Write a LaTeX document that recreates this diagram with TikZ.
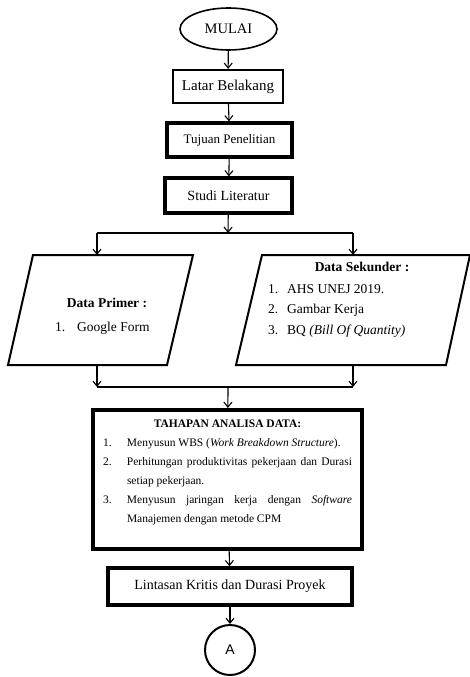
\documentclass[tikz,border=0pt]{standalone}
\usepackage{fontspec}
\setmainfont{Liberation Serif}
\newfontfamily\hurufA{Liberation Sans}
\usetikzlibrary{shapes.geometric,arrows.meta}

\tikzstyle{kotak}=[rectangle, draw=black, inner sep=0pt, font=\fontsize{14}{16}\selectfont]
\tikzstyle{tebal}=[line width=3.2pt]
\tikzstyle{jajar}=[draw=black, line width=2pt, line join=miter]
\tikzstyle{teks}=[inner sep=0pt, font=\fontsize{13.5}{15}\selectfont]
\tikzstyle{panah}=[-{Straight Barb[length=5pt,width=8pt,line width=1.1pt]}, line width=1.1pt]

\begin{document}
\begin{tikzpicture}[x=1pt, y=-1pt]
	\useasboundingbox (0,0) rectangle (470,677);

	% Awal
	\node(mulai) at (228.5,29) [ellipse, draw, line width=1.6pt, minimum width=97pt, minimum height=42pt, inner sep=0pt, font=\fontsize{14.5}{16}\selectfont] {MULAI};
	\node(latar) at (228,86.5) [kotak, line width=2.2pt, minimum width=110pt, minimum height=33pt, font=\fontsize{15}{17}\selectfont] {Latar Belakang};
	\node(tujuan) at (229.5,140) [kotak, tebal, minimum width=125pt, minimum height=34pt, font=\fontsize{13}{15}\selectfont] {Tujuan Penelitian};
	\node(studi) at (228.5,195.5) [kotak, tebal, minimum width=127pt, minimum height=35pt] {Studi Literatur};

	\draw[panah] (mulai) -- (latar);
	\draw[panah] (latar) -- (tujuan);
	\draw[panah] (tujuan) -- (studi);

	% Percabangan data
	\coordinate(pisah) at (228,233);
	\coordinate(pisahKiri) at (97,233);
	\coordinate(pisahKanan) at (353,233);
	\coordinate(primerAtas) at (97,255);
	\coordinate(sekunderAtas) at (353,255);

	\draw[panah] (studi) -- (pisah);
	\draw[line width=1.1pt] (pisahKiri) -- (pisahKanan);
	\draw[panah] (pisahKiri) -- (primerAtas);
	\draw[panah] (pisahKanan) -- (sekunderAtas);

	% Data primer
	\draw[jajar] (33,255) -- (193,255) -- (167,365) -- (8,365) -- cycle;
	\node(primer) at (107,303) [teks, font=\fontsize{13.5}{15}\selectfont\bfseries] {Data Primer :};
	\node(primerIsi) at (55,328) [teks, anchor=west] {\makebox[22pt][l]{1.}Google Form};

	% Data sekunder
	\draw[jajar] (262,255) -- (470,255) -- (446,365) -- (236,365) -- cycle;
	\node(sekunder) at (362,267) [teks, font=\fontsize{13.5}{15}\selectfont\bfseries] {Data Sekunder :};
	\node(sekunderIsi) at (268,310.5) [teks, anchor=west, align=left] {\makebox[19pt][l]{1.}AHS UNEJ 2019.\\[5.5pt]
		\makebox[19pt][l]{2.}Gambar Kerja\\[5.5pt]
		\makebox[19pt][l]{3.}BQ \textit{(Bill Of Quantity)}};

	% Penggabungan
	\coordinate(primerBawah) at (97,365);
	\coordinate(sekunderBawah) at (353,365);
	\coordinate(gabungKiri) at (97,387);
	\coordinate(gabungKanan) at (353,387);
	\coordinate(gabung) at (228,387);

	\draw[panah] (primerBawah) -- (gabungKiri);
	\draw[panah] (sekunderBawah) -- (gabungKanan);
	\draw[line width=1.1pt] (gabungKiri) -- (gabungKanan);

	% Analisa data
	\node(tahapan) at (227.5,408) [anchor=north, rectangle, draw, line width=4pt, text width=249pt, inner xsep=10pt, inner ysep=10pt, align=justify, font=\fontsize{11.5}{19}\selectfont] {%
		{\centering\bfseries TAHAPAN ANALISA DATA:\par}
		\hangindent=24pt\hangafter=1\noindent\makebox[24pt][l]{1.}Menyusun WBS (\textit{Work Breakdown Structure}).\par
		\hangindent=24pt\hangafter=1\noindent\makebox[24pt][l]{2.}Perhitungan produktivitas pekerjaan dan Durasi\linebreak setiap pekerjaan.\par
		\hangindent=24pt\hangafter=1\noindent\makebox[24pt][l]{3.}Menyusun jaringan kerja dengan \textit{Software}\linebreak Manajemen dengan metode CPM\rule[-16pt]{0pt}{1pt}\par};
	\draw[panah] (gabung) -- (tahapan);

	% Hasil
	\node(lintasan) at (230,586.5) [kotak, line width=3.5pt, minimum width=244pt, minimum height=37pt] {Lintasan Kritis dan Durasi Proyek};
	\node(a) at (230,650) [circle, draw, line width=2pt, minimum size=50pt, inner sep=0pt, font=\hurufA\fontsize{14}{16}\selectfont] {A};

	\draw[panah] (tahapan) -- (lintasan);
	\draw[panah] (lintasan) -- (a);

\end{tikzpicture}
\end{document}
